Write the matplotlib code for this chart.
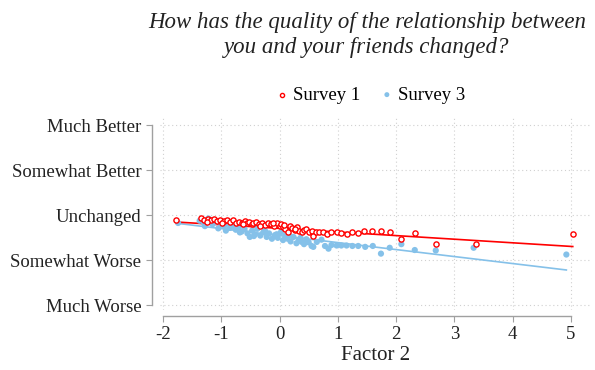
import matplotlib.pyplot as plt
import numpy as np

plt.rcParams['font.family'] = ['Liberation Serif', 'DejaVu Serif']

# Survey 1: binned means (factor score, rating)
s1_x = [-1.78, -1.35, -1.30, -1.22, -1.18, -1.12, -1.08, -1.02, -0.95, -0.90,
        -0.85, -0.80, -0.74, -0.70, -0.65, -0.60, -0.56, -0.52, -0.48, -0.45,
        -0.40, -0.35, -0.30, -0.25, -0.20, -0.15, -0.10, -0.05, 0.00, 0.03,
        0.06, 0.10, 0.14, 0.18, 0.22, 0.26, 0.30, 0.34, 0.38, 0.42,
        0.46, 0.50, 0.55, 0.58, 0.62, 0.67, 0.74, 0.82, 0.89, 0.98,
        1.06, 1.15, 1.24, 1.35, 1.45, 1.59, 1.74, 1.89, 2.08, 2.32,
        2.68, 3.37, 5.03, -1.25, -0.98, -0.62, -0.33, -0.12, 0.08, 0.27]
s1_y = [2.89, 2.95, 2.90, 2.92, 2.89, 2.91, 2.88, 2.90, 2.87, 2.90,
        2.86, 2.89, 2.82, 2.86, 2.84, 2.88, 2.82, 2.86, 2.80, 2.84,
        2.85, 2.80, 2.83, 2.78, 2.82, 2.80, 2.77, 2.82, 2.76, 2.80,
        2.74, 2.70, 2.63, 2.76, 2.72, 2.68, 2.74, 2.66, 2.62, 2.68,
        2.70, 2.64, 2.66, 2.54, 2.63, 2.62, 2.62, 2.59, 2.62, 2.63,
        2.61, 2.59, 2.63, 2.60, 2.65, 2.66, 2.65, 2.63, 2.48, 2.60,
        2.36, 2.37, 2.58, 2.86, 2.84, 2.80, 2.76, 2.84, 2.78, 2.70]

# Survey 3
s3_x = [-1.74, -1.37, -1.30, -1.22, -1.15, -1.10, -1.05, -1.00, -0.95, -0.90,
        -0.85, -0.80, -0.75, -0.70, -0.65, -0.60, -0.55, -0.51, -0.47, -0.42,
        -0.38, -0.33, -0.28, -0.22, -0.18, -0.13, -0.08, -0.03, 0.02, 0.06,
        0.10, 0.14, 0.19, 0.24, 0.29, 0.33, 0.38, 0.42, 0.46, 0.50,
        0.55, 0.58, 0.64, 0.72, 0.78, 0.84, 0.89, 0.98, 1.06, 1.15,
        1.25, 1.35, 1.47, 1.60, 1.74, 1.89, 2.09, 2.32, 2.68, 3.33,
        4.92, -1.28, -0.92, -0.68, -0.44, -0.25, -0.05, 0.16, 0.36]
s3_y = [2.83, 2.88, 2.84, 2.93, 2.80, 2.85, 2.71, 2.80, 2.76, 2.82,
        2.72, 2.78, 2.68, 2.74, 2.64, 2.70, 2.60, 2.52, 2.66, 2.58,
        2.70, 2.55, 2.62, 2.52, 2.60, 2.48, 2.56, 2.50, 2.62, 2.45,
        2.55, 2.48, 2.42, 2.52, 2.38, 2.45, 2.41, 2.36, 2.47, 2.40,
        2.32, 2.30, 2.41, 2.46, 2.32, 2.26, 2.34, 2.33, 2.33, 2.33,
        2.32, 2.32, 2.30, 2.32, 2.15, 2.28, 2.36, 2.23, 2.22, 2.28,
        2.13, 2.76, 2.66, 2.62, 2.54, 2.66, 2.58, 2.56, 2.50]

# linear fits (intercept, slope)
s1_fit = (2.71, -0.080)
s3_fit = (2.55, -0.155)

y_labels = ['Much Worse', 'Somewhat Worse', 'Unchanged', 'Somewhat Better', 'Much Better']
x_ticks = [-2, -1, 0, 1, 2, 3, 4, 5]

red = '#ff0000'
blue = '#85c1e9'

fig = plt.figure(figsize=(5.95, 3.70), dpi=100)
ax = fig.add_axes([160 / 595, 60 / 370, 432 / 595, 193 / 370])

xx3 = np.array([min(s3_x), max(s3_x)])
xx1 = np.array([min(s1_x), max(s1_x)])
ax.plot(xx3, s3_fit[0] + s3_fit[1] * xx3, color=blue, lw=1.2, zorder=2)
ax.plot(xx1, s1_fit[0] + s1_fit[1] * xx1, color=red, lw=1.2, zorder=2)
ax.scatter(s3_x, s3_y, s=20, color=blue, edgecolor='none', zorder=3, label='Survey 3')
ax.scatter(s1_x, s1_y, s=14, facecolor='white', edgecolor=red, linewidth=1.0,
           zorder=4, label='Survey 1')

ax.set_xlim(-2.05, 5.36)
ax.set_ylim(0.9, 5.18)
ax.set_xticks(x_ticks)
ax.set_xticklabels([str(t) for t in x_ticks])
ax.set_yticks([1, 2, 3, 4, 5])
ax.set_yticklabels(y_labels)
ax.grid(True, ls=(0, (1, 2.5)), color='#d0d0d0', lw=0.8)
ax.set_axisbelow(True)

for s in ['top', 'right']:
    ax.spines[s].set_visible(False)
ax.spines['left'].set_position(('outward', 6))
ax.spines['left'].set_bounds(1, 5)
ax.spines['bottom'].set_position(('outward', 4))
ax.spines['bottom'].set_bounds(-2, 5)
for s in ['left', 'bottom']:
    ax.spines[s].set_color('#a0a0a0')
    ax.spines[s].set_linewidth(1.0)
ax.tick_params(colors='#a0a0a0', labelcolor='#222222', labelsize=13.5, length=4)

ax.set_xlabel('Factor 2', fontsize=15, color='#222222', labelpad=2)

h, l = ax.get_legend_handles_labels()
fig.legend(h[::-1], l[::-1], loc='center', bbox_to_anchor=(370 / 595, 1 - 95 / 370),
           ncol=2, frameon=False, fontsize=13.5, handletextpad=0.2, handlelength=0.8,
           columnspacing=1.0, markerscale=0.8)

fig.text(367 / 595, 1 - 35 / 370,
         'How has the quality of the relationship between\nyou and your friends changed?',
         ha='center', va='center', fontsize=16.5, style='italic', color='#222222',
         linespacing=1.25)

fig.savefig('out.png', dpi=100)
